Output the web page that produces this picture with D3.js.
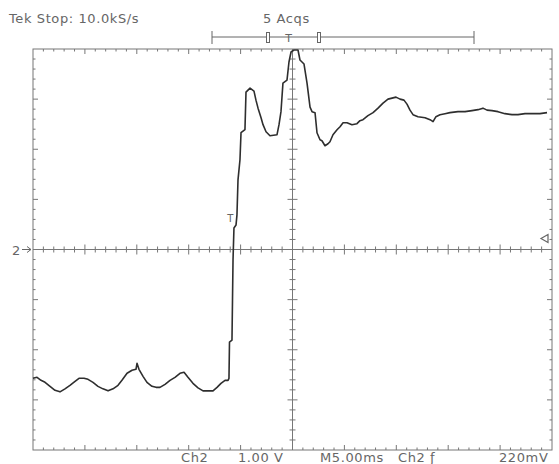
<!DOCTYPE html>
<html>
<head>
<meta charset="utf-8">
<script src="https://cdn.jsdelivr.net/npm/d3@7"></script>
<style>
  body { margin: 0; background: #fff; }
  svg { display: block; }
  text { font-family: "DejaVu Sans", sans-serif; fill: #666; }
</style>
</head>
<body>
<svg id="scope"></svg>
<script>
// trace, time in ms (5 ms/div) and Ch2 volts (1 V/div)
const timeMs = [
  -25.00, -24.61, -24.23, -23.84, -23.36, -22.88, -22.40, -21.92, -21.44, -20.95,
  -20.57, -20.09, -19.70, -19.22, -18.74, -18.26, -17.77, -17.29, -16.81, -16.43,
  -15.94, -15.46, -15.08, -14.98, -14.79, -14.40, -14.02, -13.54, -13.15, -12.77,
  -12.28, -11.80, -11.32, -10.84, -10.45, -10.07, -9.59, -9.10, -8.62, -8.14,
  -7.66, -7.27, -6.89, -6.50, -6.21, -6.12, -6.07, -5.83, -5.78, -5.73,
  -5.64, -5.44, -5.35, -5.25, -5.06, -4.96, -4.58, -4.48, -4.09, -3.71,
  -3.52, -3.32, -3.03, -2.84, -2.55, -2.17, -1.49, -1.30, -1.11, -0.92,
  -0.53, -0.34, -0.14, 0.14, 0.53, 0.72, 1.11, 1.40, 1.69, 1.88,
  2.17, 2.36, 2.65, 2.84, 3.13, 3.42, 3.61, 3.90, 4.29, 4.58,
  4.87, 5.25, 5.73, 6.21, 6.50, 6.79, 7.27, 7.76, 8.24, 8.72,
  9.20, 9.59, 9.97, 10.36, 10.74, 11.03, 11.32, 11.61, 12.09, 12.77,
  13.25, 13.54, 13.82, 14.21, 14.69, 15.17, 15.94, 16.62, 17.29, 17.87,
  18.35, 18.74, 19.22, 19.80, 20.47, 21.15, 21.72, 22.40, 23.07, 23.84,
  24.52
];
const voltsV = [
  -2.57, -2.55, -2.61, -2.65, -2.73, -2.81, -2.84, -2.78, -2.71, -2.63,
  -2.57, -2.57, -2.59, -2.65, -2.73, -2.78, -2.82, -2.78, -2.71, -2.61,
  -2.47, -2.41, -2.39, -2.27, -2.39, -2.53, -2.65, -2.73, -2.75, -2.75,
  -2.69, -2.61, -2.55, -2.47, -2.45, -2.55, -2.67, -2.76, -2.82, -2.82,
  -2.82, -2.75, -2.67, -2.61, -2.61, -2.57, -1.85, -1.81, -1.01, -0.21,
  0.43, 0.49, 0.69, 1.39, 1.79, 2.33, 2.39, 3.14, 3.22, 3.16,
  2.98, 2.82, 2.63, 2.49, 2.35, 2.27, 2.29, 2.49, 2.75, 3.32,
  3.38, 3.74, 3.94, 3.98, 3.98, 3.78, 3.70, 3.32, 2.84, 2.75,
  2.73, 2.33, 2.19, 2.17, 2.07, 2.11, 2.15, 2.29, 2.39, 2.45,
  2.53, 2.53, 2.49, 2.51, 2.57, 2.59, 2.67, 2.73, 2.82, 2.92,
  3.00, 3.02, 3.04, 3.00, 2.98, 2.90, 2.78, 2.69, 2.65, 2.63,
  2.59, 2.55, 2.65, 2.69, 2.71, 2.73, 2.75, 2.75, 2.77, 2.79,
  2.82, 2.78, 2.77, 2.75, 2.71, 2.69, 2.69, 2.71, 2.71, 2.71,
  2.73
];

const headerLeft = "Tek Stop: 10.0kS/s";
const headerAcqs = "5 Acqs";
const footerLabels = ["Ch2", "1.00 V", "M5.00ms", "Ch2 \u0192", "220mV"];
const triggerLevelV = 0.22;

const W = 559, H = 464;
const plot = { left: 33, right: 552, top: 49, bottom: 450 };

const svg = d3.select("#scope").attr("width", W).attr("height", H);

const x = d3.scaleLinear().domain([-25, 25]).range([plot.left, plot.right]);
const y = d3.scaleLinear().domain([-4, 4]).range([plot.bottom, plot.top]);

const grid = svg.append("g").attr("stroke", "#777").attr("stroke-width", 1);

// border
grid.append("rect")
  .attr("x", plot.left).attr("y", plot.top)
  .attr("width", plot.right - plot.left).attr("height", plot.bottom - plot.top)
  .attr("fill", "none");

// center cross
grid.append("line").attr("x1", x(0)).attr("x2", x(0)).attr("y1", plot.top).attr("y2", plot.bottom);
grid.append("line").attr("x1", plot.left).attr("x2", plot.right).attr("y1", y(0)).attr("y2", y(0));

const xTicks = d3.range(-24, 25, 1);      // 0.2 div = 1 ms
const yTicks = d3.range(-3.8, 3.81, 0.2); // 0.2 div = 0.2 V
const isMajorX = t => Math.abs(t % 5) < 1e-6;
const isMajorY = t => Math.abs(Math.round(t) - t) < 1e-6;

// ticks on the cross
grid.selectAll("line.cx").data(xTicks).enter().append("line")
  .attr("x1", d => x(d)).attr("x2", d => x(d))
  .attr("y1", d => y(0) - (isMajorX(d) ? 5 : 3))
  .attr("y2", d => y(0) + (isMajorX(d) ? 5 : 3));
grid.selectAll("line.cy").data(yTicks).enter().append("line")
  .attr("y1", d => y(d)).attr("y2", d => y(d))
  .attr("x1", d => x(0) - (isMajorY(d) ? 5 : 3))
  .attr("x2", d => x(0) + (isMajorY(d) ? 5 : 3));

// ticks on the border, pointing in
grid.selectAll("line.bt").data(xTicks).enter().append("line")
  .attr("x1", d => x(d)).attr("x2", d => x(d))
  .attr("y1", plot.top).attr("y2", d => plot.top + (isMajorX(d) ? 5 : 2.5));
grid.selectAll("line.bb").data(xTicks).enter().append("line")
  .attr("x1", d => x(d)).attr("x2", d => x(d))
  .attr("y1", plot.bottom).attr("y2", d => plot.bottom - (isMajorX(d) ? 5 : 2.5));
grid.selectAll("line.bl").data(yTicks).enter().append("line")
  .attr("y1", d => y(d)).attr("y2", d => y(d))
  .attr("x1", plot.left).attr("x2", d => plot.left + (isMajorY(d) ? 5 : 2.5));
grid.selectAll("line.br").data(yTicks).enter().append("line")
  .attr("y1", d => y(d)).attr("y2", d => y(d))
  .attr("x1", plot.right).attr("x2", d => plot.right - (isMajorY(d) ? 5 : 2.5));

// waveform
const pts = timeMs.map((t, i) => [t, voltsV[i]]);
svg.append("path")
  .datum(pts)
  .attr("fill", "none")
  .attr("stroke", "#2e2e2e")
  .attr("stroke-width", 1.6)
  .attr("stroke-linejoin", "round")
  .attr("d", d3.line().x(d => x(d[0])).y(d => y(d[1])));

// header
svg.append("text").attr("x", 9).attr("y", 23).style("font-size", "13px")
  .attr("letter-spacing", "0.6").text(headerLeft);
svg.append("text").attr("x", 263).attr("y", 23).style("font-size", "13px")
  .attr("letter-spacing", "0.6").text(headerAcqs);

// record bar
const bar = svg.append("g").attr("stroke", "#666").attr("stroke-width", 1).attr("fill", "none");
bar.append("line").attr("x1", 212).attr("x2", 474).attr("y1", 37).attr("y2", 37);
bar.append("line").attr("x1", 212).attr("x2", 212).attr("y1", 31).attr("y2", 44);
bar.append("line").attr("x1", 474).attr("x2", 474).attr("y1", 31).attr("y2", 44);
bar.append("rect").attr("x", 266.5).attr("y", 32.5).attr("width", 3).attr("height", 10).attr("fill", "#fff");
bar.append("rect").attr("x", 317.5).attr("y", 32.5).attr("width", 3).attr("height", 10).attr("fill", "#fff");
svg.append("text").attr("x", x(0) - 4).attr("y", 42).attr("text-anchor", "middle")
  .style("font-size", "11px").text("T");

// trigger point marker on trace
svg.append("text").attr("x", x(-6.0)).attr("y", 222).attr("text-anchor", "middle")
  .style("font-size", "10px").text("T");

// channel ground marker
svg.append("text").attr("x", 12).attr("y", y(0) + 5).style("font-size", "13px").text("2");
svg.append("path")
  .attr("d", `M22,${y(0)} H31 M27,${y(0) - 3} L31,${y(0)} L27,${y(0) + 3}`)
  .attr("stroke", "#666").attr("fill", "none");

// trigger level marker
const ty = y(triggerLevelV);
svg.append("path")
  .attr("d", `M541,${ty} L548,${ty - 4} L548,${ty + 4} Z`)
  .attr("stroke", "#666").attr("fill", "#fff").attr("stroke-width", 1.2);

// footer
const footerX = [181, 238, 320, 398, 499];
footerLabels.forEach((s, i) => {
  svg.append("text").attr("x", footerX[i]).attr("y", 462)
    .style("font-size", "13px").attr("letter-spacing", "0.6").text(s);
});
</script>
</body>
</html>
